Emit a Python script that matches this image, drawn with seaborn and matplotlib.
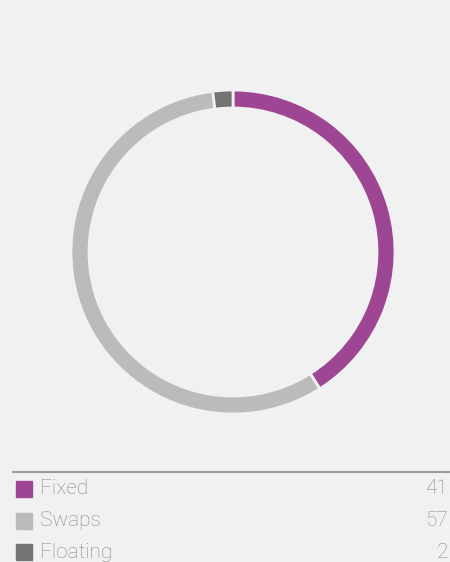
import matplotlib
matplotlib.use("Agg")
import matplotlib.pyplot as plt
from matplotlib.patches import Rectangle
import seaborn as sns

categories = ["Fixed", "Swaps", "Floating"]
values = [41, 57, 2]
colors = ["#9e4594", "#bbbbbb", "#737373"]

bg = "#f1f1f1"
sns.set_theme(style="white", rc={"figure.facecolor": bg, "axes.facecolor": bg})
plt.rcParams["font.family"] = ["Roboto", "DejaVu Sans"]

W, H = 450, 562
fig = plt.figure(figsize=(W / 100, H / 100), dpi=100)

# donut ring
cx, cy, r = 233, 252, 162
ax = fig.add_axes([(cx - r) / W, (H - cy - r) / H, 2 * r / W, 2 * r / H])
ax.pie(values, colors=sns.color_palette(colors), startangle=90, counterclock=False,
       radius=1.0, wedgeprops=dict(width=18 / r, edgecolor=bg, linewidth=2))
ax.set_xlim(-1, 1)
ax.set_ylim(-1, 1)
ax.set_aspect("equal")
ax.axis("off")

# legend table
fig.add_artist(plt.Line2D([13 / W, 1.0], [(H - 472) / H] * 2, color="#999999",
                          linewidth=1.5, transform=fig.transFigure))
rows_y = [489, 521, 552]
for name, val, col, y in zip(categories, values, colors, rows_y):
    fig.add_artist(Rectangle((16 / W, (H - y - 8) / H), 16 / W, 16 / H,
                             color=col, transform=fig.transFigure))
    fig.text(40 / W, (H - y) / H, name, fontsize=15, color="#8a8a8a",
             fontweight="light", va="center", ha="left")
    fig.text(448 / W, (H - y) / H, str(val), fontsize=15, color="#8a8a8a",
             fontweight="light", va="center", ha="right")

fig.savefig("out.png", dpi=100, facecolor=bg)
